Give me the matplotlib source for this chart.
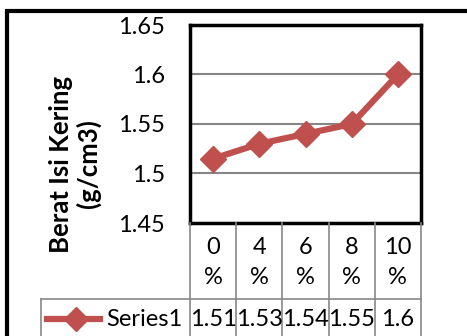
import matplotlib.pyplot as plt
from matplotlib.patches import Rectangle
from matplotlib.lines import Line2D

# data
categories = ['0\n%', '4\n%', '6\n%', '8\n%', '10\n%']
values = [1.515, 1.53, 1.54, 1.55, 1.6]
value_labels = ['1.51', '1.53', '1.54', '1.55', '1.6']
series_name = 'Series1'
y_ticks = [1.45, 1.5, 1.55, 1.6, 1.65]
y_tick_labels = ['1.45', '1.5', '1.55', '1.6', '1.65']

W, H = 467, 336
red = '#C0504D'
grid_gray = '#868686'
plt.rcParams['font.family'] = ['Lato', 'DejaVu Sans']

fig = plt.figure(figsize=(W / 100, H / 100), dpi=100)


def fx(px):
    return px / W


def fy(py):
    return 1 - py / H


# plot area in pixels
left, top, right, bottom = 190, 25, 421, 223
ax = fig.add_axes([fx(left), fy(bottom), fx(right - left), (bottom - top) / H])

x = list(range(len(values)))
ax.plot(x, values, color=red, lw=4.5, marker='D', ms=13, mfc=red, mec=red, zorder=3)
ax.set_xlim(-0.5, len(values) - 0.5)
ax.set_ylim(y_ticks[0], y_ticks[-1])
ax.set_yticks(y_ticks)
ax.set_yticklabels(y_tick_labels, fontsize=17)
ax.set_xticks([])
ax.tick_params(axis='y', length=0, pad=18)
ax.yaxis.grid(True, color=grid_gray, lw=1.5)
ax.set_axisbelow(True)
for s in ax.spines.values():
    s.set_color('black')
    s.set_linewidth(2.5)

# y label
fig.text(fx(75), fy(164), 'Berat Isi Kering\n(g/cm3)', rotation=90, ha='center',
         va='center', fontsize=18.5, fontweight='bold', linespacing=1.15)

# outer frame
fig.patches.append(Rectangle((fx(7), fy(400)), fx(600), (400 - 11) / H,
                             transform=fig.transFigure, fill=False, ec='black', lw=3))

# data table
tab_gray = '#878787'
col_w = (right - left) / len(values)
row_mid = 299
for i in range(len(values) + 1):
    xx = left + i * col_w
    fig.add_artist(Line2D([fx(xx), fx(xx)], [fy(bottom), fy(340)], color=tab_gray, lw=1.2))
fig.add_artist(Line2D([fx(41), fx(right)], [fy(row_mid), fy(row_mid)], color=tab_gray, lw=1.2))
fig.add_artist(Line2D([fx(41), fx(41)], [fy(row_mid), fy(340)], color=tab_gray, lw=1.2))

for i, (c, v) in enumerate(zip(categories, value_labels)):
    cx = left + (i + 0.5) * col_w
    top_txt, bot_txt = c.split('\n')
    fig.text(fx(cx), fy(247), top_txt, ha='center', va='center', fontsize=17)
    fig.text(fx(cx), fy(278), bot_txt, ha='center', va='center', fontsize=17)
    fig.text(fx(cx), fy(320), v, ha='center', va='center', fontsize=17)

# legend key
fig.add_artist(Line2D([fx(47), fx(100)], [fy(319), fy(319)], color=red, lw=4.5))
fig.add_artist(Line2D([fx(76)], [fy(319)], color=red, marker='D', ms=12, lw=0))
fig.text(fx(106), fy(320), series_name, ha='left', va='center', fontsize=17)

fig.savefig('out.png', dpi=100)
